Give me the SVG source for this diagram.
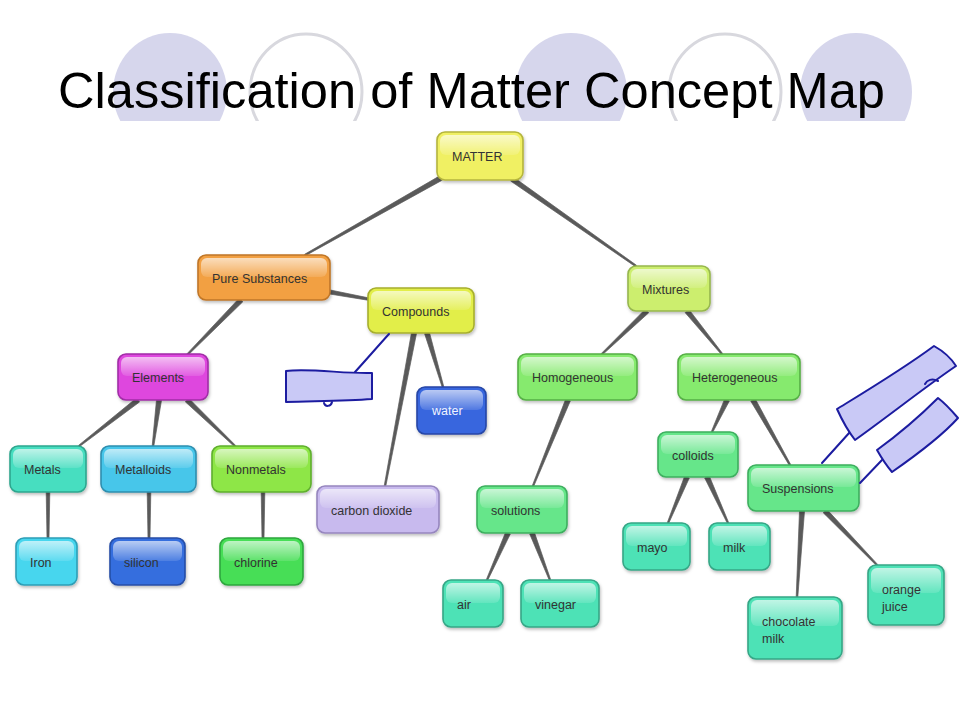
<svg xmlns="http://www.w3.org/2000/svg" width="960" height="720" viewBox="0 0 960 720">
<defs>
<clipPath id="topclip"><rect x="0" y="0" width="960" height="121"/></clipPath>
<linearGradient id="gloss" x1="0" y1="0" x2="0" y2="1">
<stop offset="0" stop-color="#ffffff" stop-opacity="0.65"/>
<stop offset="1" stop-color="#ffffff" stop-opacity="0.12"/>
</linearGradient>
<filter id="sh" x="-10%" y="-10%" width="130%" height="140%">
<feDropShadow dx="1" dy="2" stdDeviation="1.5" flood-color="#000" flood-opacity="0.25"/>
</filter>
</defs>
<style>
.b{stroke-width:1.6;filter:url(#sh)}
.g{fill:url(#gloss)}
.t{font-family:"Liberation Sans",Arial,sans-serif;font-size:12.5px;fill:#333}
.tw{font-family:"Liberation Sans",Arial,sans-serif;font-size:12.5px;fill:#f0f4ff}
.c polygon{fill:#5a5a5a;stroke:#5a5a5a;stroke-width:0.7;stroke-linejoin:round}
.hd{fill:#c9c9f6;stroke:#1c1ca0;stroke-width:2;stroke-linejoin:round}
.hl{fill:none;stroke:#1c1ca0;stroke-width:2;stroke-linecap:round}
.cf{fill:#d6d6ec}
.co{fill:none;stroke:#d8d8de;stroke-width:3}
</style>
<rect width="960" height="720" fill="#ffffff"/>
<g id="background" clip-path="url(#topclip)">
<ellipse class="cf" cx="170" cy="92" rx="57" ry="59"/>
<ellipse class="co" cx="306" cy="92" rx="56" ry="58"/>
<ellipse class="cf" cx="571" cy="92" rx="56" ry="59"/>
<ellipse class="co" cx="725" cy="92" rx="56" ry="58"/>
<ellipse class="cf" cx="856" cy="92" rx="56" ry="59"/>
</g>
<text id="title" x="58" y="108" font-family="'Liberation Sans',Arial,sans-serif" font-size="50" fill="#000" textLength="827" lengthAdjust="spacingAndGlyphs">Classification of Matter Concept Map</text>

<g id="connectors" class="c">
<polygon points="439.8,175.8 442.2,180.2 305.4,255.7 304.6,254.3"/>
<polygon points="510.6,181 513.4,177 636.5,265.3 635.5,266.7"/>
<polygon points="329.6,294 330.4,290 368.2,297.8 367.8,300.2"/>
<polygon points="239.2,298.2 242.8,301.8 187.6,355.6 186.4,354.4"/>
<polygon points="411.5,332.5 416.5,333.5 385.8,486.1 384.2,485.9"/>
<polygon points="424.6,333.7 429.4,332.3 443.8,386.8 442.2,387.2"/>
<polygon points="136.5,398 139.5,402 79.5,446.6 78.5,445.4"/>
<polygon points="156.5,399.7 161.5,400.3 153.8,446.1 152.2,445.9"/>
<polygon points="185.3,401.8 188.7,398.2 235.6,445.4 234.4,446.6"/>
<polygon points="46.2,492 49.8,492 49,538 47,538"/>
<polygon points="147.2,492 150.8,492 150,538 148,538"/>
<polygon points="261.2,492 264.8,492 264,538 262,538"/>
<polygon points="645.3,309.2 648.7,312.8 602.6,354.6 601.4,353.4"/>
<polygon points="685.1,312.6 688.9,309.4 722.6,353.5 721.4,354.5"/>
<polygon points="565.7,399.1 570.3,400.9 533.7,486.3 532.3,485.7"/>
<polygon points="724.7,398.9 729.3,401.1 712.7,432.3 711.3,431.7"/>
<polygon points="750.8,401.2 755.2,398.8 790.7,464.6 789.3,465.4"/>
<polygon points="505.7,532 510.3,534 487.7,580.3 486.3,579.7"/>
<polygon points="529.7,533.9 534.3,532.1 550.7,579.7 549.3,580.3"/>
<polygon points="684.7,476 689.3,478 668.7,523.3 667.3,522.7"/>
<polygon points="704.7,478 709.3,476 728.7,522.7 727.3,523.3"/>
<polygon points="799.5,510.9 804.5,511.1 797.8,597 796.2,597"/>
<polygon points="823.2,512.7 826.8,509.3 877.6,564.4 876.4,565.6"/>
</g>

<g id="n-matter"><rect class="b" x="437" y="132" width="86" height="48" rx="8" fill="#f0f064" stroke="#b4b43c"/><rect class="g" x="440" y="135" width="80" height="20" rx="6"/><text class="t" x="452" y="161">MATTER</text></g>
<g id="n-pure"><rect class="b" x="198" y="255" width="132" height="45" rx="8" fill="#f2a042" stroke="#bf7628"/><rect class="g" x="201" y="258" width="126" height="19" rx="6"/><text class="t" x="212" y="283">Pure Substances</text></g>
<g id="n-compounds"><rect class="b" x="368" y="288" width="106" height="45" rx="8" fill="#e2ee4a" stroke="#a6ae2e"/><rect class="g" x="371" y="291" width="100" height="19" rx="6"/><text class="t" x="382" y="316">Compounds</text></g>
<g id="n-mixtures"><rect class="b" x="628" y="266" width="82" height="45" rx="8" fill="#ccee6e" stroke="#96b64e"/><rect class="g" x="631" y="269" width="76" height="19" rx="6"/><text class="t" x="642" y="294">Mixtures</text></g>
<g id="n-elements"><rect class="b" x="118" y="354" width="90" height="46" rx="8" fill="#de46de" stroke="#a02ea6"/><rect class="g" x="121" y="357" width="84" height="19" rx="6"/><text class="t" x="132" y="382">Elements</text></g>
<g id="n-homogeneous"><rect class="b" x="518" y="354" width="119" height="46" rx="8" fill="#86ea6e" stroke="#56ae46"/><rect class="g" x="521" y="357" width="113" height="19" rx="6"/><text class="t" x="532" y="382">Homogeneous</text></g>
<g id="n-heterogeneous"><rect class="b" x="678" y="354" width="122" height="46" rx="8" fill="#86ea6e" stroke="#56ae46"/><rect class="g" x="681" y="357" width="116" height="19" rx="6"/><text class="t" x="692" y="382">Heterogeneous</text></g>
<g id="n-water"><rect class="b" x="417" y="387" width="69" height="47" rx="8" fill="#3766de" stroke="#2646a6"/><rect class="g" x="420" y="390" width="63" height="20" rx="6"/><text class="tw" x="432" y="415">water</text></g>
<g id="n-metals"><rect class="b" x="10" y="446" width="76" height="46" rx="8" fill="#46dec0" stroke="#2ea68e"/><rect class="g" x="13" y="449" width="70" height="19" rx="6"/><text class="t" x="24" y="474">Metals</text></g>
<g id="n-metalloids"><rect class="b" x="101" y="446" width="95" height="46" rx="8" fill="#46c6ea" stroke="#2e8eae"/><rect class="g" x="104" y="449" width="89" height="19" rx="6"/><text class="t" x="115" y="474">Metalloids</text></g>
<g id="n-nonmetals"><rect class="b" x="212" y="446" width="99" height="46" rx="8" fill="#8ee646" stroke="#5eae2e"/><rect class="g" x="215" y="449" width="93" height="19" rx="6"/><text class="t" x="226" y="474">Nonmetals</text></g>
<g id="n-co2"><rect class="b" x="317" y="486" width="122" height="47" rx="8" fill="#c8baee" stroke="#9686be"/><rect class="g" x="320" y="489" width="116" height="19" rx="6"/><text class="t" x="331" y="515">carbon dioxide</text></g>
<g id="n-solutions"><rect class="b" x="477" y="486" width="90" height="47" rx="8" fill="#66e68a" stroke="#3eae5e"/><rect class="g" x="480" y="489" width="84" height="19" rx="6"/><text class="t" x="491" y="515">solutions</text></g>
<g id="n-colloids"><rect class="b" x="658" y="432" width="80" height="45" rx="8" fill="#66e68a" stroke="#3eae5e"/><rect class="g" x="661" y="435" width="74" height="19" rx="6"/><text class="t" x="672" y="460">colloids</text></g>
<g id="n-suspensions"><rect class="b" x="748" y="465" width="111" height="46" rx="8" fill="#66e68a" stroke="#3eae5e"/><rect class="g" x="751" y="468" width="105" height="19" rx="6"/><text class="t" x="762" y="493">Suspensions</text></g>
<g id="n-iron"><rect class="b" x="16" y="538" width="61" height="47" rx="8" fill="#46d6ee" stroke="#2e9eb6"/><rect class="g" x="19" y="541" width="55" height="20" rx="6"/><text class="t" x="30" y="567">Iron</text></g>
<g id="n-silicon"><rect class="b" x="110" y="538" width="75" height="47" rx="8" fill="#366ede" stroke="#264ea6"/><rect class="g" x="113" y="541" width="69" height="20" rx="6"/><text class="t" x="124" y="567">silicon</text></g>
<g id="n-chlorine"><rect class="b" x="220" y="538" width="83" height="47" rx="8" fill="#46de56" stroke="#2ea63e"/><rect class="g" x="223" y="541" width="77" height="20" rx="6"/><text class="t" x="234" y="567">chlorine</text></g>
<g id="n-mayo"><rect class="b" x="623" y="523" width="67" height="47" rx="8" fill="#4ee2b6" stroke="#36a686"/><rect class="g" x="626" y="526" width="61" height="20" rx="6"/><text class="t" x="637" y="552">mayo</text></g>
<g id="n-milk"><rect class="b" x="709" y="523" width="61" height="47" rx="8" fill="#4ee2b6" stroke="#36a686"/><rect class="g" x="712" y="526" width="55" height="20" rx="6"/><text class="t" x="723" y="552">milk</text></g>
<g id="n-air"><rect class="b" x="443" y="580" width="60" height="47" rx="8" fill="#4ee2b6" stroke="#36a686"/><rect class="g" x="446" y="583" width="54" height="20" rx="6"/><text class="t" x="457" y="609">air</text></g>
<g id="n-vinegar"><rect class="b" x="521" y="580" width="78" height="47" rx="8" fill="#4ee2b6" stroke="#36a686"/><rect class="g" x="524" y="583" width="72" height="20" rx="6"/><text class="t" x="535" y="609">vinegar</text></g>
<g id="n-chocmilk"><rect class="b" x="748" y="597" width="94" height="62" rx="8" fill="#4ee2b6" stroke="#36a686"/><rect class="g" x="751" y="600" width="88" height="26" rx="6"/><text class="t" x="762" y="626">chocolate</text><text class="t" x="762" y="643">milk</text></g>
<g id="n-oj"><rect class="b" x="868" y="565" width="76" height="60" rx="8" fill="#4ee2b6" stroke="#36a686"/><rect class="g" x="871" y="568" width="70" height="25" rx="6"/><text class="t" x="882" y="594">orange</text><text class="t" x="882" y="611">juice</text></g>

<g id="handdrawn">
<path class="hl" d="M355,372 C366,360 378,346 389,334"/>
<path class="hd" d="M286,371 C310,368 345,374 372,373 L372,399 C345,401 315,401 286,402 Z"/>
<path class="hl" d="M324,403 C325,407 331,407 332,402"/>
<path class="hl" d="M850,432 L822,463"/>
<path class="hd" d="M837,409 C868,390 903,369 934,346 C943,351 951,358 956,366 C925,387 890,415 855,440 C848,431 842,420 837,409 Z"/>
<path class="hl" d="M925,384 C927,380 932,378 938,381"/>
<path class="hl" d="M882,460 L860,483"/>
<path class="hd" d="M877,450 C899,434 920,416 938,398 C946,404 952,411 958,418 C940,438 915,456 892,472 C886,465 881,457 877,450 Z"/>
</g>
</svg>
